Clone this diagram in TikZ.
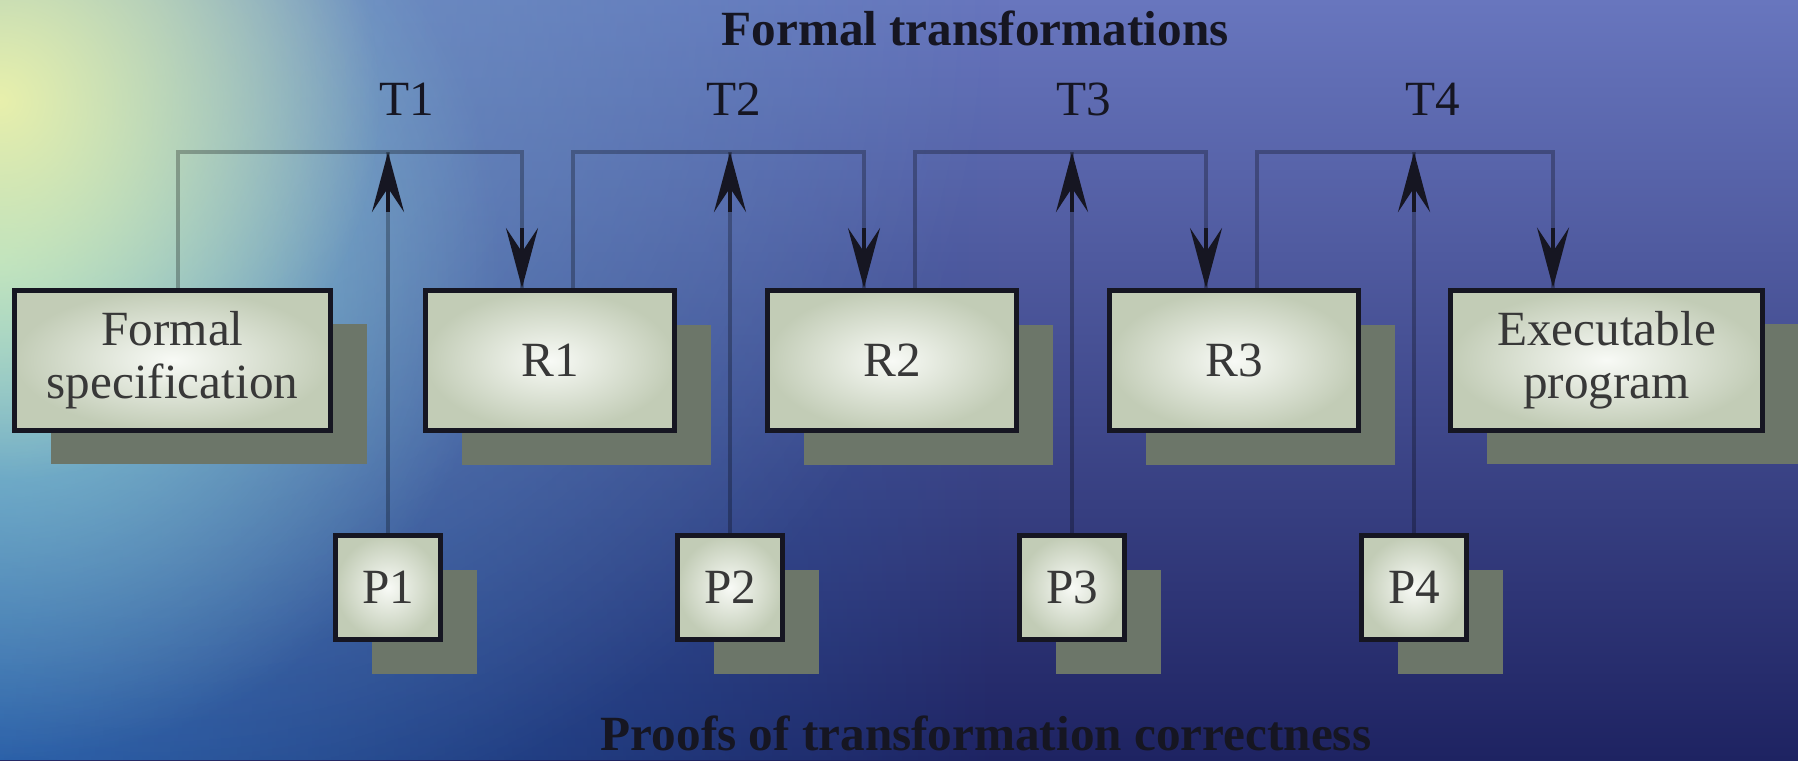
\documentclass[tikz,border=0pt]{standalone}
\usepackage{fontspec}
\setmainfont{Liberation Serif}
\usetikzlibrary{arrows.meta,shadows,fadings}

\definecolor{seatop}{RGB}{104,118,190}
\definecolor{seamid}{RGB}{56,68,158}
\definecolor{seabot}{RGB}{30,35,98}
\definecolor{shallow}{RGB}{40,108,186}
\definecolor{mist}{RGB}{160,176,198}
\definecolor{haze}{RGB}{150,222,218}
\definecolor{sunlit}{RGB}{232,240,172}
\definecolor{boxedge}{RGB}{194,204,182}
\definecolor{boxcore}{RGB}{248,250,246}
\definecolor{shade}{RGB}{108,118,105}
\definecolor{ink}{RGB}{22,22,34}

\tikzfading[name=fadeout, inner color=transparent!0, outer color=transparent!100]
\tikzfading[name=faderight, left color=transparent!0, right color=transparent!100]

\tikzset{
  stage/.style={draw=ink, line width=0.5mm, inner color=boxcore, outer color=boxedge,
    text=black!78, font=\fontsize{14}{15}\selectfont, align=center,
    minimum width=24.9mm, minimum height=14mm,
    drop shadow={shadow xshift=3.6mm, shadow yshift=-3.4mm, fill=shade, opacity=1}},
  proof/.style={stage, minimum width=10.5mm, minimum height=10.4mm},
  link/.style={black, opacity=0.27, line width=0.45mm},
  head/.style={ink, line width=0.45mm, -{Stealth[length=6mm, width=3.2mm, inset=2.4mm]}},
  caption/.style={ink, font=\fontsize{14}{15}\selectfont\bfseries, anchor=base},
  tlabel/.style={ink, font=\fontsize{14}{15}\selectfont, anchor=base},
}

\begin{document}
\begin{tikzpicture}[x=0.1mm, y=-0.1mm]
\useasboundingbox (0,0) rectangle (1798,760);

% sea backdrop
\fill[top color=seatop, middle color=seamid, bottom color=seabot] (0,0) rectangle (1798,760);
\fill[shallow, opacity=0.8, path fading=faderight] (0,0) rectangle (1000,760);
\fill[mist, opacity=0.55, path fading=fadeout] (150,0) circle (850);
\fill[haze, opacity=0.9, path fading=fadeout] (0,260) circle (500);
\fill[sunlit, path fading=fadeout] (0,100) circle (380);

% captions
\node[caption] (title) at (975,45) {Formal transformations};
\node[caption] (proofs) at (986,750) {Proofs of transformation correctness};

\node[tlabel] (t1) at (407,115) {T1};
\node[tlabel] (t2) at (734,115) {T2};
\node[tlabel] (t3) at (1084,115) {T3};
\node[tlabel] (t4) at (1433,115) {T4};

% refinement chain
\node[stage, minimum width=31.6mm] (fs) at (172.5,360) {Formal\\specification};
\node[stage] (r1) at (550,360.5) {R1};
\node[stage] (r2) at (892,360.5) {R2};
\node[stage] (r3) at (1234,360.5) {R3};
\node[stage, minimum width=31.2mm] (ep) at (1606.5,360) {Executable\\program};

% proofs
\node[proof] (p1) at (388,587.5) {P1};
\node[proof] (p2) at (730,587.5) {P2};
\node[proof] (p3) at (1072,587.5) {P3};
\node[proof] (p4) at (1414,587.5) {P4};

% bracket corners
\coordinate (t1a) at (178,152);  \coordinate (t1b) at (522,152);
\coordinate (t2a) at (573,152);  \coordinate (t2b) at (864,152);
\coordinate (t3a) at (915,152);  \coordinate (t3b) at (1206,152);
\coordinate (t4a) at (1257,152); \coordinate (t4b) at (1553,152);

\draw[link] (fs.north -| t1a) -- (t1a) -- (t1b) -- (t1b |- r1.north);
\draw[link] (r1.north -| t2a) -- (t2a) -- (t2b) -- (t2b |- r2.north);
\draw[link] (r2.north -| t3a) -- (t3a) -- (t3b) -- (t3b |- r3.north);
\draw[link] (r3.north -| t4a) -- (t4a) -- (t4b) -- (t4b |- ep.north);

\draw[link] (p1.north) -- (p1 |- t1a);
\draw[link] (p2.north) -- (p2 |- t2a);
\draw[link] (p3.north) -- (p3 |- t3a);
\draw[link] (p4.north) -- (p4 |- t4a);

% arrow heads
\draw[head] ([yshift=-6mm]p1 |- t1a) -- (p1 |- t1a);
\draw[head] ([yshift=-6mm]p2 |- t2a) -- (p2 |- t2a);
\draw[head] ([yshift=-6mm]p3 |- t3a) -- (p3 |- t3a);
\draw[head] ([yshift=-6mm]p4 |- t4a) -- (p4 |- t4a);
\draw[head] ([yshift=6mm]t1b |- r1.north) -- (t1b |- r1.north);
\draw[head] ([yshift=6mm]t2b |- r2.north) -- (t2b |- r2.north);
\draw[head] ([yshift=6mm]t3b |- r3.north) -- (t3b |- r3.north);
\draw[head] ([yshift=6mm]t4b |- ep.north) -- (t4b |- ep.north);
\end{tikzpicture}
\end{document}
